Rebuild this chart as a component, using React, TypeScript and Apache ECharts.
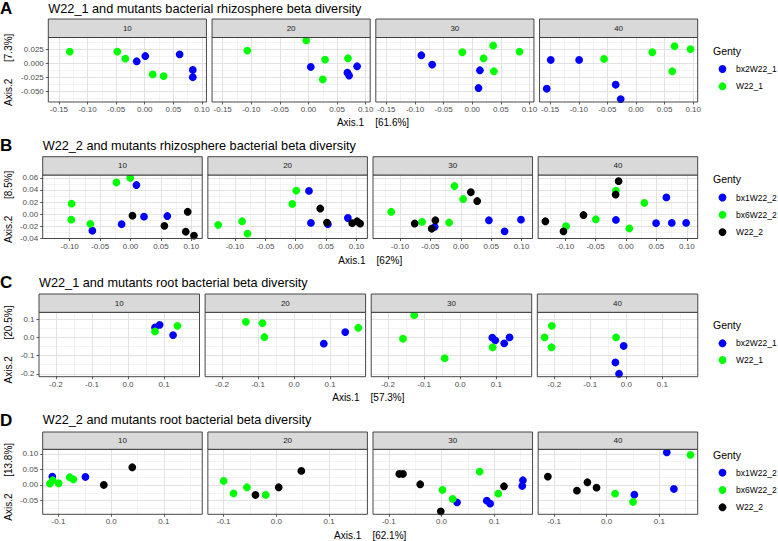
import React, { useEffect, useRef } from 'react';
import * as echarts from 'echarts';

// ---------- data ----------
const FACETS = ['10', '20', '30', '40'];
const LETTERS = ['A', 'B', 'C', 'D'];
const TITLES = [
  'W22_1 and mutants bacterial rhizosphere beta diversity',
  'W22_2 and mutants rhizosphere bacterial beta diversity',
  'W22_1 and mutants root bacterial beta diversity',
  'W22_2 and mutants root bacterial beta diversity',
];
const NB4 = '\u00a0\u00a0\u00a0\u00a0';
const NB6 = '\u00a0\u00a0\u00a0\u00a0\u00a0\u00a0';
const X_PCT = ['[61.6%]', '[62%]', '[57.3%]', '[62.1%]'];
const Y_PCT = ['[7.3%]', '[8.5%]', '[20.5%]', '[13.8%]'];
const GENOTYPES_1 = ['bx2W22_1', 'W22_1'];
const GENOTYPES_2 = ['bx1W22_2', 'bx6W22_2', 'W22_2'];
const COLORS_1 = ['#0000ff', '#00ff00'];
const COLORS_2 = ['#0000ff', '#00ff00', '#000000'];

// Row A (bx2W22_1, W22_1)
const A10_bx2 = [[-0.014, 0.0036], [0.001, 0.013], [0.061, 0.016], [0.084, -0.012], [0.084, -0.025]];
const A10_w22 = [[-0.131, 0.021], [-0.048, 0.021], [-0.034, 0.0084], [0.014, -0.02], [0.033, -0.023]];
const A20_bx2 = [[0.004, -0.0066], [0.068, -0.0168], [0.071, -0.022], [0.085, -0.0054]];
const A20_w22 = [[-0.107, 0.0228], [-0.004, 0.041], [0.029, 0.0066], [0.025, -0.029], [0.069, 0.009]];
const A30_bx2 = [[-0.089, 0.0144], [-0.07, -0.0024], [0.0134, -0.0126], [0.011, -0.0444]];
const A30_w22 = [[-0.0174, 0.0198], [0.0366, 0.0318], [0.0198, 0.009], [0.0826, 0.021], [0.0378, -0.0144]];
const A40_bx2 = [[-0.149, 0.006], [-0.0994, 0.006], [-0.0355, -0.0384], [-0.156, -0.0456], [-0.0267, -0.0642]];
const A40_w22 = [[-0.0558, 0.0078], [0.0285, 0.0198], [0.0674, 0.0306], [0.0953, 0.0252], [0.0634, -0.0144]];

// Row B (bx1W22_2, bx6W22_2, W22_2)
const B10_bx1 = [[0.0097, 0.0481], [-0.0627, -0.0276], [-0.0146, -0.0168], [0.0222, -0.0043], [0.0605, -0.0032]];
const B10_bx6 = [[-0.0968, 0.0173], [-0.0973, -0.0092], [-0.0232, 0.0524], [-0.0005, 0.06], [-0.066, -0.0162]];
const B10_w22 = [[0.0032, -0.0027], [0.0557, -0.0195], [0.094, 0.0038], [0.0908, -0.0292], [0.1043, -0.0357]];
const B20_bx1 = [[0.0219, 0.0384], [0.0251, -0.0146], [0.053, -0.0168], [0.0858, -0.0065]];
const B20_bx6 = [[-0.1273, -0.0178], [-0.088, -0.0119], [-0.0792, -0.0324], [0.001, 0.0389], [-0.0055, 0.0168]];
const B20_w22 = [[0.0404, 0.0092], [0.0514, -0.0141], [0.0929, -0.0151], [0.101, -0.0119], [0.106, -0.0157]];
const B30_bx1 = [[-0.0429, -0.0211], [0.0462, -0.0103], [0.0989, -0.0092], [0.072, -0.0286]];
const B30_bx6 = [[-0.1143, 0.0038], [-0.0104, 0.0465], [0.0038, 0.0249], [-0.0637, -0.013], [-0.0192, -0.014]];
const B30_w22 = [[0.0165, 0.0362], [0.0269, 0.0216], [-0.0758, -0.0157], [-0.0418, -0.0103], [-0.0478, -0.0243]];
const B40_bx1 = [[-0.0165, -0.0097], [0.0665, 0.0276], [0.0495, -0.0151], [0.0753, -0.0146], [0.0989, -0.0146]];
const B40_bx6 = [[-0.0984, -0.02], [-0.0495, -0.0086], [-0.0165, 0.0389], [0.0055, -0.0238], [0.0302, 0.0184]];
const B40_w22 = [[-0.1324, -0.0119], [-0.1027, -0.0286], [-0.0698, -0.0016], [-0.0121, 0.0546], [-0.017, 0.0324]];

// Row C (bx2W22_1, W22_1)
const C10_bx2 = [[0.075, 0.0545], [0.0878, 0.069], [0.125, 0.0127]];
const C10_w22 = [[0.075, 0.0327], [0.137, 0.0636]];
const C20_bx2 = [[0.0823, -0.0345], [0.1418, 0.029]];
const C20_w22 = [[-0.1336, 0.0855], [-0.0878, 0.078], [-0.0823, 0.0018], [0.178, 0.0527]];
const C30_bx2 = [[0.089, -0.0018], [0.0972, -0.0164], [0.122, -0.0327], [0.1367, 0.0]];
const C30_w22 = [[-0.1275, 0.1218], [-0.1587, -0.0073], [-0.0431, -0.1145], [0.0899, -0.0545]];
const C40_bx2 = [[-0.0073, -0.0473], [-0.0303, -0.138], [-0.0202, -0.2]];
const C40_w22 = [[-0.2064, 0.0636], [-0.2266, 0.0], [-0.2073, -0.0545], [-0.0284, 0.0]];

// Row D (bx1W22_2, bx6W22_2, W22_2)
const D10_bx1 = [[-0.1117, 0.0268], [-0.0489, 0.0257]];
const D10_bx6 = [[-0.111, 0.015], [-0.1162, 0.0043], [-0.0997, 0.0054], [-0.0787, 0.0246], [-0.0717, 0.0182]];
const D10_w22 = [[-0.014, 0.0], [0.04, 0.0567]];
const D20_bx1: number[][] = [];
const D20_bx6 = [[-0.1, 0.0128], [-0.0812, -0.0268], [-0.0558, -0.0075], [-0.0201, -0.0321]];
const D20_w22 = [[-0.0396, -0.0321], [0.0045, -0.0075], [0.0474, 0.045]];
const D30_bx1 = [[0.0295, -0.0557], [0.0859, -0.0503], [0.0923, -0.06], [0.1545, 0.015], [0.1532, -0.0032]];
const D30_bx6 = [[0.0019, -0.0161], [0.0212, -0.045], [0.0724, 0.0428], [0.1077, -0.0278]];
const D30_w22 = [[-0.0801, 0.0353], [-0.0731, 0.0353], [-0.0404, 0.0021], [-0.0013, -0.0846], [0.1186, -0.0043]];
const D40_bx1 = [[0.0526, -0.031], [0.1141, 0.1049], [0.1276, -0.0128]];
const D40_bx6 = [[0.016, -0.0278], [0.05, -0.0546], [0.159, 0.0964]];
const D40_w22 = [[-0.1115, 0.0268], [-0.0564, -0.0182], [-0.0365, 0.0086], [-0.0192, -0.0086]];

const ROWS = [
  { genotypes: GENOTYPES_1, colors: COLORS_1, xInt: 0.05, yInt: 0.025, xDec: 2, yDec: 3,
    panels: [[A10_bx2, A10_w22], [A20_bx2, A20_w22], [A30_bx2, A30_w22], [A40_bx2, A40_w22]] },
  { genotypes: GENOTYPES_2, colors: COLORS_2, xInt: 0.05, yInt: 0.02, xDec: 2, yDec: 2,
    panels: [[B10_bx1, B10_bx6, B10_w22], [B20_bx1, B20_bx6, B20_w22], [B30_bx1, B30_bx6, B30_w22], [B40_bx1, B40_bx6, B40_w22]] },
  { genotypes: GENOTYPES_1, colors: COLORS_1, xInt: 0.1, yInt: 0.1, xDec: 1, yDec: 1,
    panels: [[C10_bx2, C10_w22], [C20_bx2, C20_w22], [C30_bx2, C30_w22], [C40_bx2, C40_w22]] },
  { genotypes: GENOTYPES_2, colors: COLORS_2, xInt: 0.1, yInt: 0.05, xDec: 1, yDec: 2,
    panels: [[D10_bx1, D10_bx6, D10_w22], [D20_bx1, D20_bx6, D20_w22], [D30_bx1, D30_bx6, D30_w22], [D40_bx1, D40_bx6, D40_w22]] },
];

// ---------- layout ----------
const GAP = 5.6;
const LAYOUT = [
  { left: 48.3, width: 158.15, stripTop: 19, plotTop: 37.5, plotBottom: 102, titleY: 8.5, xTitleY: 122, legTitleY: 51, legY: 69, legStep: 17.3 },
  { left: 42.7, width: 159.55, stripTop: 156.7, plotTop: 175, plotBottom: 238.5, titleY: 145.5, xTitleY: 260, legTitleY: 178.5, legY: 197.5, legStep: 17.3 },
  { left: 39, width: 160.5, stripTop: 294, plotTop: 312.3, plotBottom: 376.7, titleY: 282.5, xTitleY: 397, legTitleY: 325, legY: 343.3, legStep: 16.7 },
  { left: 42.7, width: 159.55, stripTop: 432, plotTop: 449.3, plotBottom: 514.3, titleY: 420, xTitleY: 535, legTitleY: 454.5, legY: 472.7, legStep: 17.3 },
];
const FONT = '"Liberation Sans", Arial, Helvetica, sans-serif';
const PANEL_RIGHT = 697.7;
const MAJOR_GRID = '#e2e2e2';
const MINOR_GRID = '#eeeeee';

function limits(vals: number[]) {
  const lo = Math.min(...vals);
  const hi = Math.max(...vals);
  const pad = (hi - lo) * 0.05;
  return [lo - pad, hi + pad];
}
// major breaks: multiples of iv inside [min, max]
function majorTicks(min: number, max: number, iv: number) {
  const out: number[] = [];
  const k0 = Math.ceil(min / iv - 1e-9);
  const k1 = Math.floor(max / iv + 1e-9);
  for (let k = k0; k <= k1; k++) out.push(+(k * iv).toFixed(6));
  return out;
}
// minor breaks: midpoints between (and just beyond) the major breaks, inside [min, max]
function minorTicks(min: number, max: number, iv: number) {
  const out: number[] = [];
  const k0 = Math.ceil(min / iv - 0.5 - 1e-9);
  const k1 = Math.floor(max / iv - 0.5 + 1e-9);
  for (let k = k0; k <= k1; k++) out.push(+((k + 0.5) * iv).toFixed(6));
  return out;
}

function buildOption() {
  const grids: any[] = [];
  const xAxes: any[] = [];
  const yAxes: any[] = [];
  const series: any[] = [];
  const graphics: any[] = [];

  ROWS.forEach((row, r) => {
    const L = LAYOUT[r];
    const pts: number[][] = [];
    row.panels.forEach((p) => p.forEach((g) => g.forEach((pt) => pts.push(pt))));
    const [xmin, xmax] = limits(pts.map((p) => p[0]));
    const [ymin, ymax] = limits(pts.map((p) => p[1]));
    const xt = majorTicks(xmin, xmax, row.xInt);
    const yt = majorTicks(ymin, ymax, row.yInt);
    const xm = minorTicks(xmin, xmax, row.xInt);
    const ym = minorTicks(ymin, ymax, row.yInt);
    const h = L.plotBottom - L.plotTop;

    row.panels.forEach((panel, f) => {
      const gi = grids.length;
      const left = L.left + f * (L.width + GAP);
      grids.push({ left, top: L.plotTop, width: L.width, height: h, show: false });

      // minor grid axes (hidden)
      xAxes.push({
        type: 'value', gridIndex: gi, position: 'top', min: xmin, max: xmax, z: 0,
        axisLine: { show: false, onZero: false },
        axisTick: { show: false, customValues: xm },
        axisLabel: { show: false },
        splitLine: { show: true, lineStyle: { color: MINOR_GRID, width: 0.7 } },
      });
      yAxes.push({
        type: 'value', gridIndex: gi, position: 'right', min: ymin, max: ymax, z: 0,
        axisLine: { show: false, onZero: false },
        axisTick: { show: false, customValues: ym },
        axisLabel: { show: false },
        splitLine: { show: true, lineStyle: { color: MINOR_GRID, width: 0.7 } },
      });
      // main axes
      const xIdx = xAxes.length;
      xAxes.push({
        type: 'value', gridIndex: gi, position: 'bottom', min: xmin, max: xmax, z: 1,
        axisLine: { show: false, onZero: false },
        axisTick: { show: true, length: 2.5, lineStyle: { color: '#333333', width: 0.8 }, customValues: xt },
        axisLabel: { show: true, customValues: xt, fontSize: 8, color: '#4d4d4d', fontFamily: FONT, margin: 3.5,
          formatter: (v: number) => v.toFixed(row.xDec) },
        splitLine: { show: true, lineStyle: { color: MAJOR_GRID, width: 1 } },
      });
      const yIdx = yAxes.length;
      yAxes.push({
        type: 'value', gridIndex: gi, position: 'left', min: ymin, max: ymax, z: 1,
        axisLine: { show: false, onZero: false },
        axisTick: { show: f === 0, length: 2.5, lineStyle: { color: '#333333', width: 0.8 }, customValues: yt },
        axisLabel: { show: f === 0, customValues: yt, fontSize: 8, color: '#4d4d4d', fontFamily: FONT, margin: 4.5,
          formatter: (v: number) => v.toFixed(row.yDec) },
        splitLine: { show: true, lineStyle: { color: MAJOR_GRID, width: 1 } },
      });

      panel.forEach((data, g) => {
        series.push({
          type: 'scatter', name: row.genotypes[g], xAxisIndex: xIdx, yAxisIndex: yIdx, data,
          symbol: 'circle', symbolSize: 7.8, silent: true, z: 3,
          itemStyle: { color: row.colors[g], opacity: 1 },
        });
      });
      graphics.push({
        type: 'rect', shape: { x: left, y: L.plotTop, width: L.width, height: h }, silent: true,
        style: { fill: 'none', stroke: '#333333', lineWidth: 0.9 }, z: 10,
      });
      graphics.push({
        type: 'rect', shape: { x: left, y: L.stripTop, width: L.width, height: L.plotTop - L.stripTop },
        style: { fill: '#d9d9d9', stroke: '#333333', lineWidth: 0.9 }, z: 10,
      });
      graphics.push({
        type: 'text', x: left + L.width / 2, y: (L.stripTop + L.plotTop) / 2, z: 11,
        style: { text: FACETS[f], fontSize: 8, fill: '#1a1a1a', fontFamily: FONT, align: 'center', verticalAlign: 'middle' },
      });
    });

    graphics.push({
      type: 'text', x: 0, y: L.titleY, z: 11,
      style: { text: LETTERS[r], fontSize: 17, fontWeight: 'bold', fill: '#000', fontFamily: FONT, align: 'left', verticalAlign: 'middle' },
    });
    graphics.push({
      type: 'text', x: L.left, y: L.titleY, z: 11,
      style: { text: TITLES[r], fontSize: 12.7, fill: '#000', fontFamily: FONT, align: 'left', verticalAlign: 'middle' },
    });
    graphics.push({
      type: 'text', x: (L.left + PANEL_RIGHT) / 2, y: L.xTitleY, z: 11,
      style: { text: 'Axis.1' + NB4 + X_PCT[r], fontSize: 10, fill: '#000', fontFamily: FONT, align: 'center', verticalAlign: 'middle' },
    });
    graphics.push({
      type: 'text', x: 8.5, y: (L.plotTop + L.plotBottom) / 2, rotation: Math.PI / 2, z: 11,
      style: { text: 'Axis.2' + NB6 + Y_PCT[r], fontSize: 10, fill: '#000', fontFamily: FONT, align: 'center', verticalAlign: 'middle' },
    });
    graphics.push({
      type: 'text', x: 713, y: L.legTitleY, z: 11,
      style: { text: 'Genty', fontSize: 10.5, fill: '#000', fontFamily: FONT, align: 'left', verticalAlign: 'middle' },
    });
    row.genotypes.forEach((gname, g) => {
      const y = L.legY + g * L.legStep;
      graphics.push({ type: 'circle', shape: { cx: 722.5, cy: y, r: 3.9 }, style: { fill: row.colors[g] }, z: 11 });
      graphics.push({
        type: 'text', x: 736, y, z: 11,
        style: { text: gname, fontSize: 8.5, fill: '#000', fontFamily: FONT, align: 'left', verticalAlign: 'middle' },
      });
    });
  });

  return {
    animation: false,
    backgroundColor: '#ffffff',
    textStyle: { fontFamily: FONT },
    grid: grids,
    xAxis: xAxes,
    yAxis: yAxes,
    series,
    graphic: { elements: graphics },
  };
}

export default function App() {
  const ref = useRef<HTMLDivElement>(null);
  useEffect(() => {
    if (!ref.current) return;
    const chart = echarts.init(ref.current, undefined, { renderer: 'svg' });
    chart.setOption(buildOption() as any);
    return () => chart.dispose();
  }, []);
  return (
    <div
      ref={ref}
      style={{ position: 'absolute', left: 0, top: 0, width: 778, height: 541, background: '#fff' }}
    />
  );
}
